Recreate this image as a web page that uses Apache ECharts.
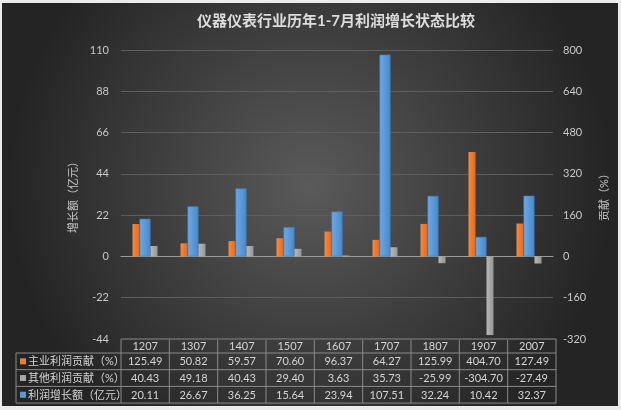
<!DOCTYPE html>
<html><head><meta charset="utf-8">
<script src="https://cdn.jsdelivr.net/npm/echarts@6/dist/echarts.min.js"></script>
<style>
html,body{margin:0;padding:0;background:#ececec;width:621px;height:410px;overflow:hidden;}
#c{position:absolute;left:2px;top:3px;width:616px;height:403px;}
</style></head>
<body><div id="c"></div>
<script>
const categories = ['1207','1307','1407','1507','1607','1707','1807','1907','2007'];
const mainContrib = [125.49,50.82,59.57,70.60,96.37,64.27,125.99,404.70,127.49];
const otherContrib = [40.43,49.18,40.43,29.40,3.63,35.73,-25.99,-304.70,-27.49];
const profitGrowth = [20.11,26.67,36.25,15.64,23.94,107.51,32.24,10.42,32.37];
const leftTicks = {min:-44,max:110,interval:22};
const rightTicks = {min:-320,max:800,interval:160};
const seriesNames = ['主业利润贡献（%）','其他利润贡献（%）','利润增长额（亿元）'];
const seriesColors = ['#ED7D31','#A5A5A5','#5B9BD5'];
const titleText = '仪器仪表行业历年1-7月利润增长状态比较';

const W = 616, H = 403;
const gridLeft = 119, gridRight = 62, gridTop = 47, gridBottom = 67;
const FONT = "Lato, 'Noto Sans CJK SC', sans-serif";
const txtColor = '#d4d4d4';

function grad(c1, c2){
  return {type:'linear',x:0,y:0,x2:1,y2:0,colorStops:[{offset:0,color:c1},{offset:1,color:c2}]};
}

const tableRows = [
  {name: seriesNames[0], color: seriesColors[0], vals: mainContrib},
  {name: seriesNames[1], color: seriesColors[1], vals: otherContrib},
  {name: seriesNames[2], color: seriesColors[2], vals: profitGrowth}
];
const x0 = gridLeft, x1 = W - gridRight;
const colW = (x1 - x0) / categories.length;
const tTop = H - gridBottom;
const headH = 14, rowH = 16.7;
const tableLeft = 14;
const lineStyle = {stroke:'#8a8a8a', lineWidth:1};
const g = [];
function hline(xa, xb, y){ g.push({type:'line', shape:{x1:xa,y1:y,x2:xb,y2:y}, style:lineStyle, silent:true}); }
function vline(x, ya, yb){ g.push({type:'line', shape:{x1:x,y1:ya,x2:x,y2:yb}, style:lineStyle, silent:true}); }
const bottomY = tTop + headH + rowH*3;
hline(x0, x1, tTop);
hline(tableLeft, x1, tTop + headH);
for (let r=1;r<=3;r++) hline(tableLeft, x1, tTop + headH + rowH*r);
vline(tableLeft, tTop + headH, bottomY);
for (let i=0;i<=categories.length;i++) vline(x0 + colW*i, tTop, bottomY);
categories.forEach((c,i)=>{
  g.push({type:'text', x: x0 + colW*(i+0.5), y: tTop + headH/2 + 0.5, silent:true,
    style:{text:c, fill:txtColor, font:'11px '+FONT, textAlign:'center', textVerticalAlign:'middle'}});
});
tableRows.forEach((row,r)=>{
  const cy = tTop + headH + rowH*(r+0.5);
  g.push({type:'rect', shape:{x:tableLeft+4, y:cy-3, width:6, height:6}, style:{fill:row.color}, silent:true});
  g.push({type:'text', x: tableLeft+12, y: cy+0.5, silent:true,
    style:{text:row.name, fill:txtColor, font:'11px '+FONT, textAlign:'left', textVerticalAlign:'middle'}});
  row.vals.forEach((v,i)=>{
    g.push({type:'text', x: x0 + colW*(i+0.5), y: cy+0.5, silent:true,
      style:{text:v.toFixed(2), fill:txtColor, font:'11px '+FONT, textAlign:'center', textVerticalAlign:'middle'}});
  });
});

const chart = echarts.init(document.getElementById('c'), null, {renderer:'canvas'});
chart.setOption({
  animation:false,
  backgroundColor:{type:'radial',x:0.5,y:0.45,r:0.75,colorStops:[{offset:0,color:'#5a5a5a'},{offset:1,color:'#242424'}]},
  textStyle:{fontFamily:FONT},
  title:{text:titleText,left:190,top:6,textStyle:{color:'#dcdcdc',fontSize:15,fontWeight:'bold',fontFamily:FONT}},
  grid:{left:gridLeft,right:gridRight,top:gridTop,bottom:gridBottom,containLabel:false},
  xAxis:{type:'category',data:categories,axisTick:{show:false},axisLabel:{show:false},
    axisLine:{show:true,onZero:true,lineStyle:{color:'#9a9a9a',width:1}}},
  yAxis:[
    {type:'value',min:leftTicks.min,max:leftTicks.max,interval:leftTicks.interval,
     name:'增长额（亿元）',nameLocation:'middle',nameGap:36,nameRotate:90,
     nameTextStyle:{color:'#c8c8c8',fontSize:11,fontFamily:FONT},
     axisLabel:{color:'#c8c8c8',fontSize:11,margin:12,fontFamily:FONT},
     axisLine:{show:false},axisTick:{show:false},
     splitLine:{show:true,lineStyle:{color:'#5e5e5e',width:1}}},
    {type:'value',min:rightTicks.min,max:rightTicks.max,interval:rightTicks.interval,
     name:'贡献（%）',nameLocation:'middle',nameGap:46,nameRotate:90,
     nameTextStyle:{color:'#c8c8c8',fontSize:11,fontFamily:FONT},
     axisLabel:{color:'#c8c8c8',fontSize:11,margin:10,fontFamily:FONT},
     axisLine:{show:false},axisTick:{show:false},splitLine:{show:false}}
  ],
  series:[
    {name:seriesNames[0],type:'bar',yAxisIndex:1,data:mainContrib,barWidth:7,barGap:'0%',
     itemStyle:{color:grad('#f28c40','#e06a22')}},
    {name:seriesNames[2],type:'bar',yAxisIndex:0,data:profitGrowth,barWidth:11,barGap:'0%',
     itemStyle:{color:grad('#6fa9e0','#4a88cc'),borderColor:'#3e7cc0',borderWidth:0.6}},
    {name:seriesNames[1],type:'bar',yAxisIndex:1,data:otherContrib,barWidth:7,barGap:'0%',
     itemStyle:{color:grad('#b8b8b8','#969696')}}
  ],
  graphic:g
});
</script></body></html>
